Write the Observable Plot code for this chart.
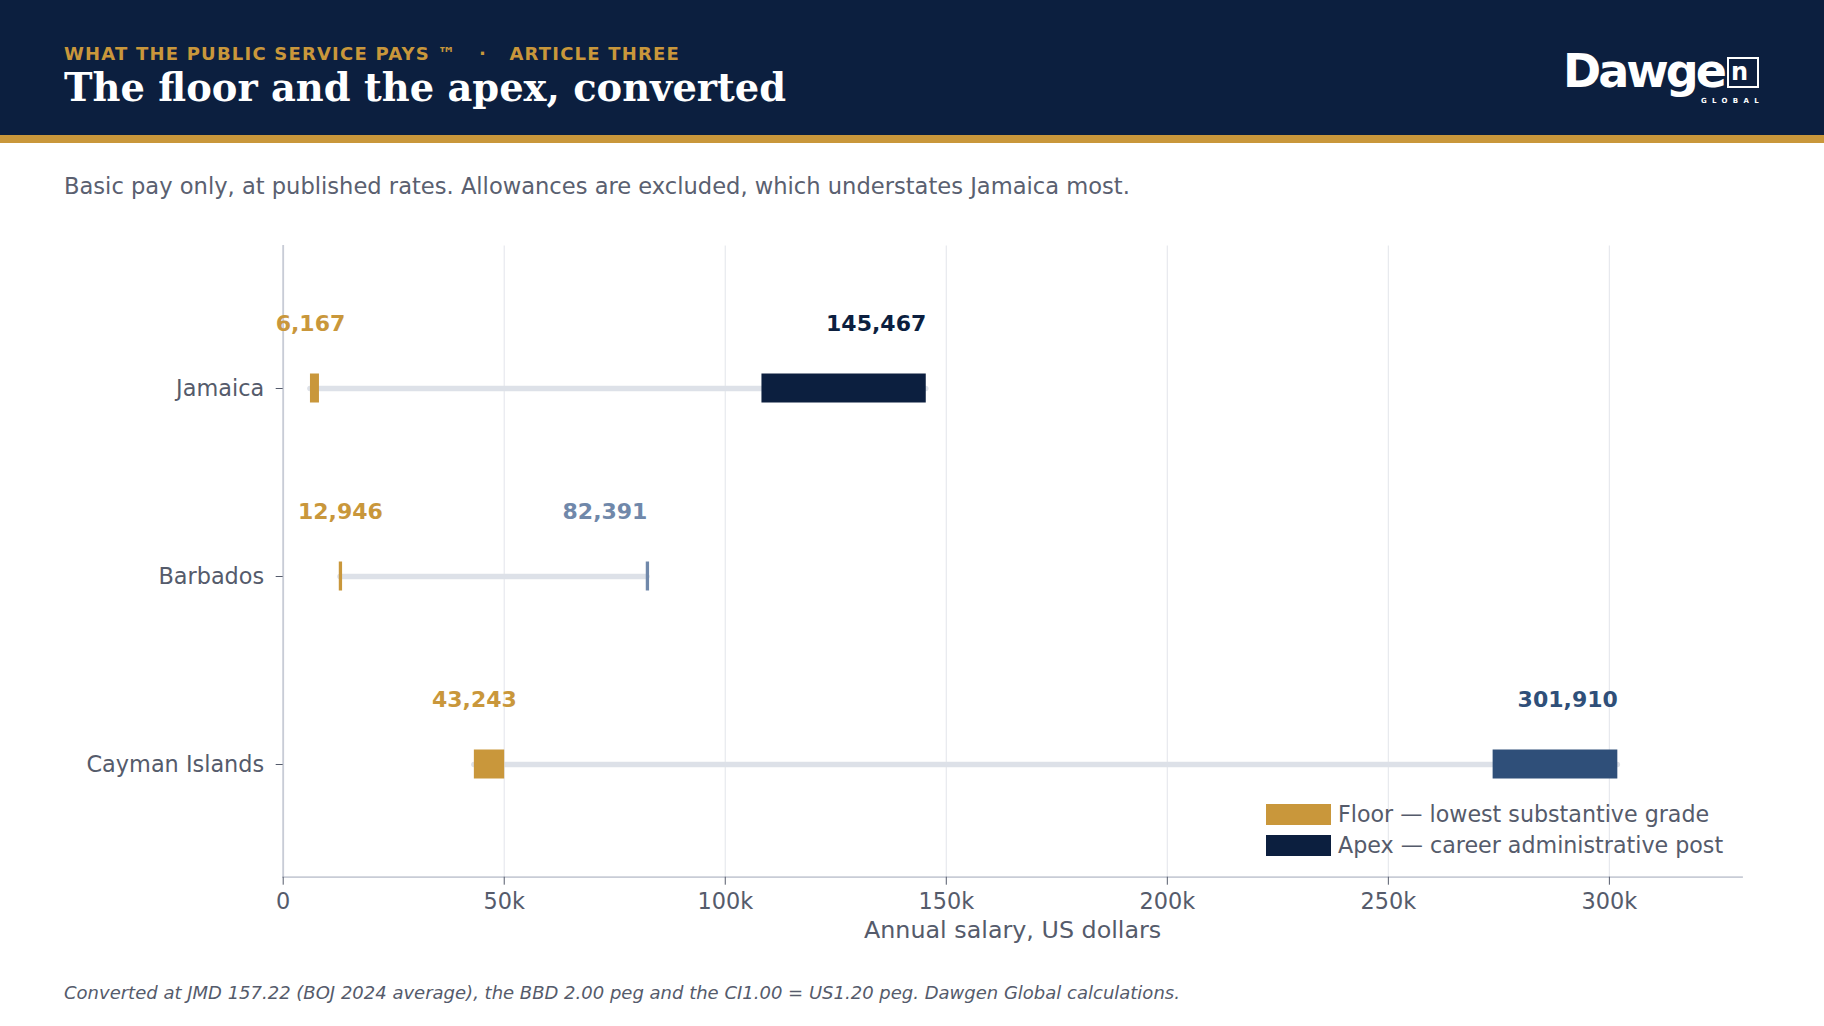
<!DOCTYPE html>
<html>
<head>
<meta charset="utf-8">
<script src="https://cdn.jsdelivr.net/npm/d3@7"></script>
<script src="https://cdn.jsdelivr.net/npm/@observablehq/plot@0.6"></script>
<style>
  body { margin: 0; background: #fff; font-family: "DejaVu Sans", sans-serif; }
  #page { position: relative; width: 1824px; height: 1026px; overflow: hidden; }
  .abs { position: absolute; white-space: nowrap; line-height: 1; }
  #band { left: 0; top: 0; width: 1824px; height: 135px; background: #0c1f3f; }
  #stripe { left: 0; top: 135px; width: 1824px; height: 8px; background: #c9973b; }
  #kicker { left: 64px; top: 44.8px; font-size: 18px; font-weight: bold; color: #c9973b; letter-spacing: 1.2px; }
  #title { left: 64px; top: 68.5px; font-family: "DejaVu Serif", serif; font-size: 38.4px; font-weight: bold; color: #fff; }
  #logo { left: 1563px; top: 51.1px; height: 40px; line-height: 40px; font-size: 46px; font-weight: bold; color: #fff; letter-spacing: -3px; }
  #logobox { left: 1727px; top: 57px; width: 28px; height: 27px; border: 2px solid #fff; }
  #logon { left: 1731px; top: 60px; font-size: 24px; font-weight: bold; color: #fff; }
  #global { left: 1701px; top: 98px; font-size: 7px; font-weight: bold; color: #fff; letter-spacing: 5.3px; }
  #subtitle { left: 64px; top: 174.9px; font-size: 22.6px; color: #5a6070; }
  #chart { left: 0; top: 215px; }
  .sw { position: absolute; width: 65px; height: 21px; }
  .lg { font-size: 22.2px; color: #555b6b; }
  #footnote { left: 64px; top: 983.8px; font-size: 18px; font-style: italic; color: #555b6b; }
</style>
</head>
<body>
<div id="page">
  <div class="abs" id="band"></div>
  <div class="abs" id="stripe"></div>
  <div class="abs" id="kicker">WHAT THE PUBLIC SERVICE PAYS ™ &nbsp; · &nbsp; ARTICLE THREE</div>
  <div class="abs" id="title">The floor and the apex, converted</div>
  <div class="abs" id="logo">Dawge</div>
  <div class="abs" id="logobox"></div>
  <div class="abs" id="logon">n</div>
  <div class="abs" id="global">GLOBAL</div>
  <div class="abs" id="subtitle">Basic pay only, at published rates. Allowances are excluded, which understates Jamaica most.</div>
  <div class="abs" id="chart"></div>
  <div class="sw" style="left:1266px;top:804px;background:#c9973b"></div>
  <div class="sw" style="left:1266px;top:835px;background:#0c1f3f"></div>
  <div class="abs lg" style="left:1338px;top:802.9px">Floor — lowest substantive grade</div>
  <div class="abs lg" style="left:1338px;top:833.9px">Apex — career administrative post</div>
  <div class="abs" id="footnote">Converted at JMD 157.22 (BOJ 2024 average), the BBD 2.00 peg and the CI1.00 = US1.20 peg. Dawgen Global calculations.</div>
</div>
<script>
// annual salaries in US dollars
const countries = ["Jamaica", "Barbados", "Cayman Islands"];
const floorLow = [6167, 12946, 43243];
const floorHigh = [8200, 12946, 50100];
const apexLow = [108300, 82391, 273700];
const apexHigh = [145467, 82391, 301910];
const xTicks = [0, 50000, 100000, 150000, 200000, 250000, 300000];

const gold = "#c9973b";
const apexColor = {"Jamaica": "#0c1f3f", "Barbados": "#7088aa", "Cayman Islands": "#2f4f79"};

const rows = countries.map((c, i) => ({
  country: c,
  floorLow: floorLow[i],
  floorHigh: floorHigh[i],
  apexLow: apexLow[i],
  apexHigh: apexHigh[i]
}));

const fmt = d3.format(",");
const inset = 79.5;

const chart = Plot.plot({
  width: 1824,
  height: 745,
  marginTop: 30.5,
  marginBottom: 83.3,
  marginLeft: 282.7,
  marginRight: 82.5,
  style: {fontFamily: "DejaVu Sans, sans-serif", color: "#555b6b", background: "transparent"},
  x: {domain: [0, 330000]},
  y: {type: "band", domain: countries, range: [79.3, 643.3], padding: 0},
  color: {type: "identity"},
  marks: [
    Plot.gridX({ticks: xTicks, stroke: "#e7e9ee", strokeOpacity: 1, strokeWidth: 1.2}),
    Plot.frame({anchor: "left", stroke: "#c8ccd6", strokeWidth: 1.8}),
    Plot.frame({anchor: "bottom", stroke: "#c8ccd6", strokeWidth: 1.8}),
    Plot.axisX({ticks: xTicks, tickFormat: d => d === 0 ? "0" : d / 1000 + "k", tickSize: 8, tickPadding: 8, fontSize: 22.4, label: null}),
    Plot.axisY({tickSize: 7, tickPadding: 12, fontSize: 22.4, label: null}),
    Plot.text(["Annual salary, US dollars"], {frameAnchor: "bottom", dy: 60.3, fontSize: 23.8, fill: "#555b6b"}),
    // connecting line from floor to apex
    Plot.ruleY(rows, {y: "country", x1: "floorLow", x2: "apexHigh", stroke: "#dde1e8", strokeWidth: 5.5, strokeLinecap: "round"}),
    // floor
    Plot.barX(rows.filter(d => d.floorHigh > d.floorLow), {y: "country", x1: "floorLow", x2: "floorHigh", fill: gold, insetTop: inset, insetBottom: inset}),
    Plot.tickX(rows.filter(d => d.floorHigh === d.floorLow), {y: "country", x: "floorLow", stroke: gold, strokeWidth: 3.3, insetTop: inset, insetBottom: inset}),
    // apex
    Plot.barX(rows.filter(d => d.apexHigh > d.apexLow), {y: "country", x1: "apexLow", x2: "apexHigh", fill: d => apexColor[d.country], insetTop: inset, insetBottom: inset}),
    Plot.tickX(rows.filter(d => d.apexHigh === d.apexLow), {y: "country", x: "apexHigh", stroke: d => apexColor[d.country], strokeWidth: 3.3, insetTop: inset, insetBottom: inset}),
    // value labels
    Plot.text(rows, {y: "country", x: "floorLow", text: d => fmt(d.floorLow), fill: gold, fontWeight: "bold", fontSize: 22, textAnchor: "middle", dy: -65}),
    Plot.text(rows, {y: "country", x: "apexHigh", text: d => fmt(d.apexHigh), fill: d => apexColor[d.country], fontWeight: "bold", fontSize: 22, textAnchor: "end", dy: -65})
  ]
});

document.getElementById("chart").append(chart);
</script>
</body>
</html>
